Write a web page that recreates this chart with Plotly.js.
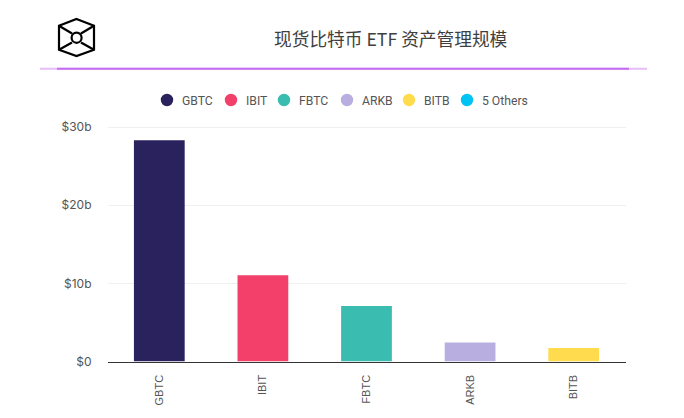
<!DOCTYPE html>
<html><head><meta charset="utf-8">
<script src="https://cdn.plot.ly/plotly-3.0.0.min.js"></script>
<style>html,body{margin:0;padding:0;background:#fff}#c{width:684px;height:418px}</style>
</head><body><div id="c"></div>
<script>
const categories = ["GBTC","IBIT","FBTC","ARKB","BITB"];
const values = [28.3,11.05,7.1,2.42,1.72];
const barColors = ["#2a225c","#f2406a","#3abdb0","#b8afe0","#ffdb4d"];
const legendLabels = ["GBTC","IBIT","FBTC","ARKB","BITB","5 Others"];
const legendColors = ["#2a225c","#f2406a","#3abdb0","#b8afe0","#ffdb4d","#00c3f3"];
const legendSwatchX = [167,231,284,347,409,467];
const tickVals = [0,10,20,30];
const tickText = ["$0","$10b","$20b","$30b"];
const W=684,H=418;
const px=x=>x/W, py=y=>1-y/H;
const shapes=[];
const annotations=[];
legendLabels.forEach((t,i)=>{
  const cx=legendSwatchX[i],cy=100,r=6.2;
  shapes.push({type:"circle",xref:"paper",yref:"paper",x0:px(cx-r),x1:px(cx+r),y0:py(cy+r),y1:py(cy-r),fillcolor:legendColors[i],line:{width:0}});
  annotations.push({xref:"paper",yref:"paper",x:px(cx+15),y:py(101),xanchor:"left",yanchor:"middle",showarrow:false,text:t,font:{family:"Roboto, sans-serif",size:12.2,color:"#555"},borderpad:0,borderwidth:0});
});
annotations.push({xref:"paper",yref:"paper",x:px(390.5),y:py(38),xanchor:"center",yanchor:"middle",showarrow:false,text:"现货比特币 ETF 资产管理规模",font:{family:"'Noto Sans CJK SC', sans-serif",size:17.7,color:"#3f3f3f"}});
// divider
shapes.push({type:"line",xref:"paper",yref:"paper",x0:px(40),x1:px(647),y0:py(68.7),y1:py(68.7),line:{color:"#e6bdf8",width:2}});
shapes.push({type:"line",xref:"paper",yref:"paper",x0:px(57),x1:px(629),y0:py(68.7),y1:py(68.7),line:{color:"#c56df0",width:2}});
// logo
const P=(pts,close)=>"M"+pts.map(p=>px(p[0])+","+py(p[1])).join("L")+(close?"Z":"");
const logoPaths=[
 [[[76.5,19],[94,25.8],[94,49.8],[76.5,56],[59,49.8],[59,25.8]],true],
 [[[59,25.8],[72,33.5]],false],[[[94,25.8],[81,33.5]],false],
 [[[59,49.8],[72,42.5]],false],[[[94,49.8],[81,42.5]],false]
];
logoPaths.forEach(([pts,c])=>shapes.push({type:"path",xref:"paper",yref:"paper",path:P(pts,c),line:{color:"#000",width:2.2}}));
shapes.push({type:"circle",xref:"paper",yref:"paper",x0:px(71.6),x1:px(81.6),y0:py(42.8),y1:py(32.6),line:{color:"#000",width:2.2}});
Plotly.newPlot("c",[{type:"bar",x:categories,y:values,width:0.49,marker:{color:barColors,line:{width:0}},hoverinfo:"x+y"}],{
  width:W,height:H,margin:{l:0,r:0,t:0,b:0},paper_bgcolor:"#fff",plot_bgcolor:"#fff",showlegend:false,
  xaxis:{domain:[107.5/W,625.5/W],anchor:"y",type:"category",tickangle:-90,tickfont:{family:"'Liberation Sans', sans-serif",size:11,color:"#555"},showgrid:false,showline:true,linecolor:"#333",linewidth:1,ticks:"",ticklabelstandoff:8,automargin:false},
  yaxis:{domain:[1-361.5/H,1-125.44/H],anchor:"x",range:[0,30.2],tickvals:tickVals,ticktext:tickText,tickfont:{family:"Inter, sans-serif",size:12,color:"#555"},gridcolor:"#f0f0f0",gridwidth:1,zeroline:false,showline:false,ticks:"",ticklabelstandoff:15,automargin:false},
  shapes,annotations,bargap:0.51
},{displayModeBar:false,responsive:false});
</script></body></html>
